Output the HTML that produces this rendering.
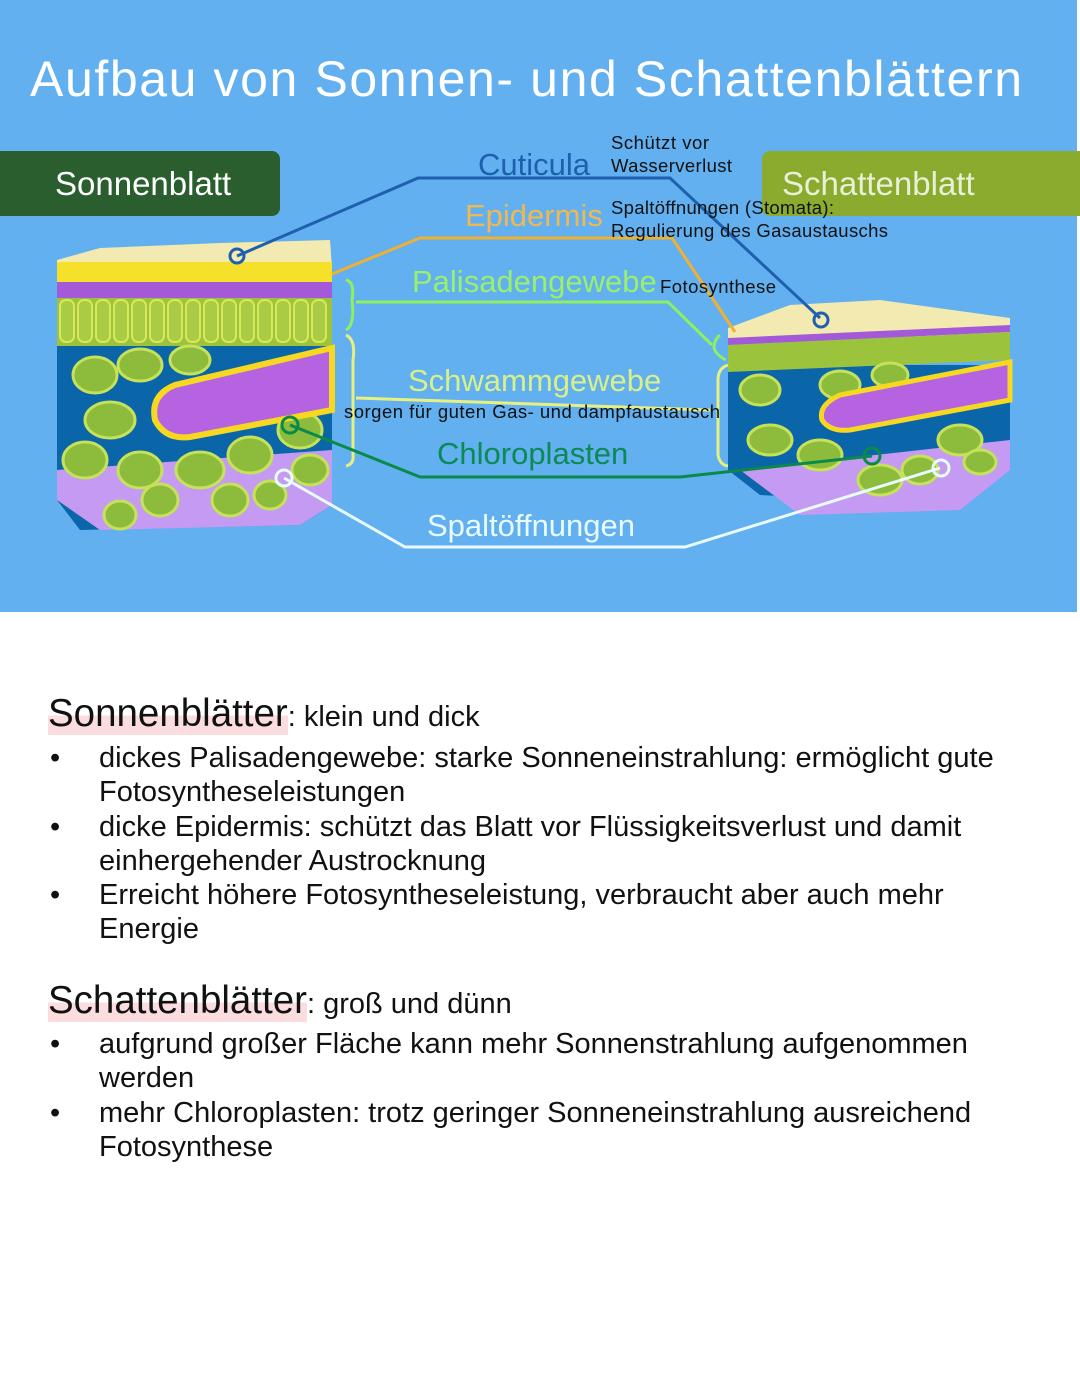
<!DOCTYPE html>
<html><head><meta charset="utf-8"><style>
body{margin:0;width:1080px;height:1397px;background:#fff;position:relative;overflow:hidden;font-family:"Liberation Sans",sans-serif}
.t{position:absolute;left:0;top:0}
.txt{position:absolute;left:0;color:#111;font-size:29px;line-height:34.3px;white-space:nowrap}
.b{position:absolute;left:50px}
.h{font-size:38.5px}
.hl{background:linear-gradient(transparent 55%,#fbdde0 55%)}
</style></head><body>
<svg class="t" width="1080" height="620" viewBox="0 0 1080 620">
<rect x="0" y="0" width="1077" height="612" fill="#62b0f0"/>
<text x="30" y="96" font-size="50" fill="#fff" textLength="992" font-family="Liberation Sans">Aufbau von Sonnen- und Schattenblättern</text>
<rect x="-10" y="151" width="290" height="65" rx="8" fill="#2b5e2f"/>
<text x="55" y="195" font-size="33" fill="#fff">Sonnenblatt</text>
<rect x="762" y="151" width="330" height="65" rx="8" fill="#8aab2e"/>
<text x="782" y="195" font-size="33" fill="#e8f0d8">Schattenblatt</text>
<!-- sun leaf -->
<polygon points="57,330 57,500 80,530 300,525 332,505 332,330" fill="#0a66a8"/>
<polygon points="57,260 100,248 220,243 330,240 332,268 57,268" fill="#f2eab0"/>
<polygon points="57,262 332,262 332,282 57,282" fill="#f5e12a"/>
<polygon points="57,282 332,282 332,298 57,298" fill="#a45ad8"/>
<rect x="57" y="298" width="275" height="48" fill="#9bc43c"/>
<g stroke="#d8e85a" stroke-width="2" fill="#a9cc44">
<rect x="60" y="300" width="14" height="42" rx="6"/><rect x="78" y="300" width="14" height="42" rx="6"/><rect x="96" y="300" width="14" height="42" rx="6"/><rect x="114" y="300" width="14" height="42" rx="6"/><rect x="132" y="300" width="14" height="42" rx="6"/><rect x="150" y="300" width="14" height="42" rx="6"/><rect x="168" y="300" width="14" height="42" rx="6"/><rect x="186" y="300" width="14" height="42" rx="6"/><rect x="204" y="300" width="14" height="42" rx="6"/><rect x="222" y="300" width="14" height="42" rx="6"/><rect x="240" y="300" width="14" height="42" rx="6"/><rect x="258" y="300" width="14" height="42" rx="6"/><rect x="276" y="300" width="14" height="42" rx="6"/><rect x="294" y="300" width="14" height="42" rx="6"/><rect x="312" y="300" width="14" height="42" rx="6"/>
</g>
<polygon points="57,470 332,450 332,505 300,525 100,530 57,500" fill="#c59af2"/>
<g fill="#8dbb3c" stroke="#c6e15a" stroke-width="3">
<ellipse cx="95" cy="375" rx="22" ry="18"/><ellipse cx="110" cy="420" rx="25" ry="18"/><ellipse cx="85" cy="460" rx="22" ry="18"/><ellipse cx="140" cy="470" rx="22" ry="18"/><ellipse cx="200" cy="470" rx="24" ry="18"/><ellipse cx="250" cy="455" rx="22" ry="18"/><ellipse cx="300" cy="430" rx="22" ry="18"/><ellipse cx="160" cy="500" rx="18" ry="16"/><ellipse cx="230" cy="500" rx="18" ry="16"/><ellipse cx="140" cy="365" rx="22" ry="16"/><ellipse cx="310" cy="470" rx="18" ry="15"/><ellipse cx="190" cy="360" rx="20" ry="14"/><ellipse cx="120" cy="515" rx="16" ry="14"/><ellipse cx="270" cy="495" rx="16" ry="14"/>
</g>
<path d="M332,348 L175,385 Q150,395 155,420 Q165,440 190,437 L332,410 Z" fill="#b563e0" stroke="#f7d820" stroke-width="6"/>
<!-- shadow leaf -->
<polygon points="728,365 728,470 760,495 960,505 1010,470 1010,365" fill="#0a66a8"/>
<polygon points="728,328 790,305 880,300 1010,318 1010,335 728,340" fill="#f2eab0"/>
<polygon points="728,338 1010,325 1010,332 728,345" fill="#a45ad8"/>
<polygon points="728,345 1010,332 1010,360 728,372" fill="#9bc43c"/>
<polygon points="740,470 1010,440 1010,470 960,510 800,515" fill="#c59af2"/>
<g fill="#8dbb3c" stroke="#c6e15a" stroke-width="3">
<ellipse cx="760" cy="390" rx="20" ry="15"/><ellipse cx="770" cy="440" rx="22" ry="15"/><ellipse cx="820" cy="455" rx="22" ry="15"/><ellipse cx="880" cy="480" rx="22" ry="15"/><ellipse cx="960" cy="440" rx="22" ry="15"/><ellipse cx="840" cy="385" rx="20" ry="14"/><ellipse cx="920" cy="470" rx="18" ry="14"/><ellipse cx="980" cy="462" rx="16" ry="12"/><ellipse cx="890" cy="375" rx="18" ry="12"/>
</g>
<path d="M1010,362 L840,395 Q818,405 822,420 Q830,432 850,430 L1010,400 Z" fill="#b563e0" stroke="#f7d820" stroke-width="5"/>
<!-- connectors -->
<g fill="none" stroke-width="3">
<polyline points="237,256 418,178 670,178 820,318" stroke="#1f5fb0"/>
<circle cx="237" cy="256" r="7" stroke="#1f5fb0"/><circle cx="821" cy="320" r="7" stroke="#1f5fb0"/>
<polyline points="332,274 420,238 672,238 735,332" stroke="#f0b030"/>
<polyline points="356,302 668,302 712,345" stroke="#8ef060"/>
<path d="M346,280 Q355,282 352,300 Q355,325 346,330 M720,335 Q714,340 714,348 Q716,355 726,360" stroke="#8ef060"/>
<polyline points="356,398 710,410" stroke="#e8f080"/>
<path d="M346,335 Q356,340 353,360 L353,455 Q354,464 346,466 M728,365 Q718,368 718,380 L718,455 Q720,465 728,466" stroke="#e8f080"/>
<polyline points="290,425 420,477 680,477 872,456" stroke="#0a8a4a"/>
<circle cx="290" cy="425" r="8" stroke="#0a8a4a"/><circle cx="872" cy="456" r="8" stroke="#0a8a4a"/>
<polyline points="284,478 405,547 685,547 940,468" stroke="#e8fbff"/>
<circle cx="284" cy="478" r="8" stroke="#e8fbff"/><circle cx="941" cy="468" r="8" stroke="#e8fbff"/>
</g>
<g font-size="31">
<text x="478" y="175" fill="#1f5fb0">Cuticula</text>
<text x="465" y="226" fill="#f0b850">Epidermis</text>
<text x="412" y="292" fill="#9af06a">Palisadengewebe</text>
<text x="408" y="391" fill="#d8f08a">Schwammgewebe</text>
<text x="437" y="464" fill="#0a8a55">Chloroplasten</text>
<text x="427" y="536" fill="#e8fbff">Spaltöffnungen</text>
</g>
<g font-size="18.5" fill="#111">
<text x="611" y="149" textLength="98">Schützt vor</text>
<text x="611" y="172" textLength="121">Wasserverlust</text>
<text x="611" y="214" textLength="223">Spaltöffnungen (Stomata):</text>
<text x="611" y="237" textLength="277">Regulierung des Gasaustauschs</text>
<text x="660" y="293" textLength="116">Fotosynthese</text>
<text x="344" y="418" textLength="376">sorgen für guten Gas- und dampfaustausch</text>
</g>
</svg>
<div class="txt" style="top:697px;left:48px"><span class="h hl">Sonnenblätter</span>: klein und dick</div>
<div class="txt" style="top:741px"><span class="b">•</span><div style="margin-left:99px">dickes Palisadengewebe: starke Sonneneinstrahlung: ermöglicht gute<br>Fotosyntheseleistungen</div></div>
<div class="txt" style="top:810px"><span class="b">•</span><div style="margin-left:99px">dicke Epidermis: schützt das Blatt vor Flüssigkeitsverlust und damit<br>einhergehender Austrocknung</div></div>
<div class="txt" style="top:878px"><span class="b">•</span><div style="margin-left:99px">Erreicht höhere Fotosyntheseleistung, verbraucht aber auch mehr<br>Energie</div></div>
<div class="txt" style="top:984px;left:48px"><span class="h hl">Schattenblätter</span>: groß und dünn</div>
<div class="txt" style="top:1027px"><span class="b">•</span><div style="margin-left:99px">aufgrund großer Fläche kann mehr Sonnenstrahlung aufgenommen<br>werden</div></div>
<div class="txt" style="top:1096px"><span class="b">•</span><div style="margin-left:99px">mehr Chloroplasten: trotz geringer Sonneneinstrahlung ausreichend<br>Fotosynthese</div></div>
</body></html>
